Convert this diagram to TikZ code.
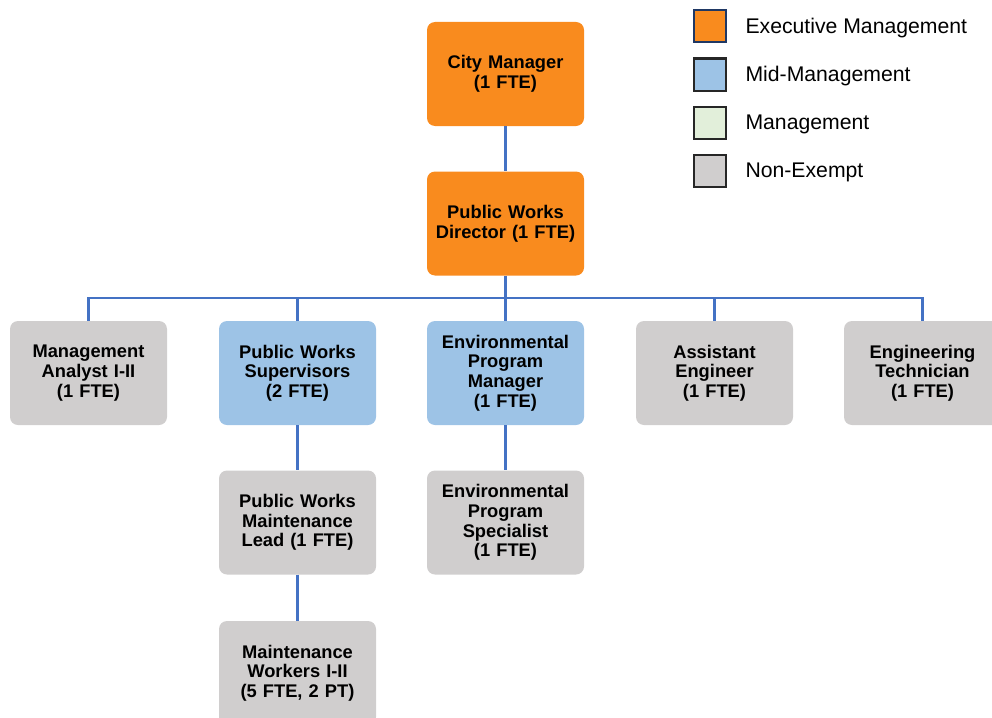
\documentclass[tikz,border=0pt]{standalone}
\usepackage{fontspec}
\setmainfont{Liberation Sans}
\usetikzlibrary{positioning}

\definecolor{execorange}{HTML}{F98B1E}
\definecolor{midblue}{HTML}{9DC3E6}
\definecolor{mgmtgreen}{HTML}{E2EFDA}
\definecolor{nonexgray}{HTML}{D0CECE}
\definecolor{linkblue}{HTML}{4472C4}
\definecolor{legborder}{HTML}{1F3864}

\begin{document}
\begin{tikzpicture}[
        x=1pt, y=-1pt,
        post/.style={rectangle, rounded corners=8pt, minimum width=157pt, minimum height=104pt,
            text width=150pt, align=center, font=\bfseries\fontsize{18.3}{19.6}\selectfont, inner sep=0pt}, % Стиль должностей
        exec/.style={post, fill=execorange},
        mid/.style={post, fill=midblue},
        nonex/.style={post, fill=nonexgray},
        link/.style={draw=linkblue, line width=2.4pt}, % Соединительные линии
        legbox/.style={rectangle, draw=black!85, line width=2pt, minimum size=32pt, inner sep=0pt},
        legtext/.style={anchor=west, font=\fontsize{21.2}{24}\selectfont},
    ]
    \useasboundingbox (0,0) rectangle (992,717);

    % Руководство
    \node[exec] (cm) at (505.5,74) {City Manager\\(1 FTE)};
    \node[exec] (pwd) at (505.5,223.5) {Public Works\\Director (1 FTE)};

    % Второй уровень
    \node[nonex] (ma) at (88.5,373) {Management\\Analyst I-II\\(1 FTE)};
    \node[mid] (pws) at (297.5,373) {Public Works\\Supervisors\\(2 FTE)};
    \node[mid] (epm) at (505.5,373) {Environmental\\Program\\Manager\\(1 FTE)};
    \node[nonex] (ae) at (714.5,373) {Assistant\\Engineer\\(1 FTE)};
    \node[nonex] (et) at (922.5,373) {Engineering\\Technician\\(1 FTE)};

    % Нижние уровни
    \node[nonex] (pwml) at (297.5,522.5) {Public Works\\Maintenance\\Lead (1 FTE)};
    \node[nonex] (eps) at (505.5,522.5) {Environmental\\Program\\Specialist\\(1 FTE)};
    \node[nonex] (mw) at (297.5,673) {Maintenance\\Workers I-II\\(5 FTE, 2 PT)};

    % Связи
    \coordinate (bus) at (505.5,298);
    \draw[link] (cm) -- (pwd);
    \draw[link] (pwd) -- (bus);
    \foreach \n in {ma,pws,epm,ae,et}
        \draw[link] (bus) -| (\n.north);
    \draw[link] (pws) -- (pwml);
    \draw[link] (pwml) -- (mw);
    \draw[link] (epm) -- (eps);

    % Легенда
    \node[legbox, fill=execorange, draw=legborder] (lexec) at (710,26.5) {};
    \node[legbox, fill=midblue] (lmid) at (710,74.5) {};
    \node[legbox, fill=mgmtgreen] (lmgmt) at (710,122.5) {};
    \node[legbox, fill=nonexgray] (lnonex) at (710,170.5) {};
    \node[legtext] (texec) at (742,28) {Executive Management};
    \node[legtext] (tmid) at (742,76) {Mid-Management};
    \node[legtext] (tmgmt) at (742,124) {Management};
    \node[legtext] (tnonex) at (742,172) {Non-Exempt};

\end{tikzpicture}
\end{document}
